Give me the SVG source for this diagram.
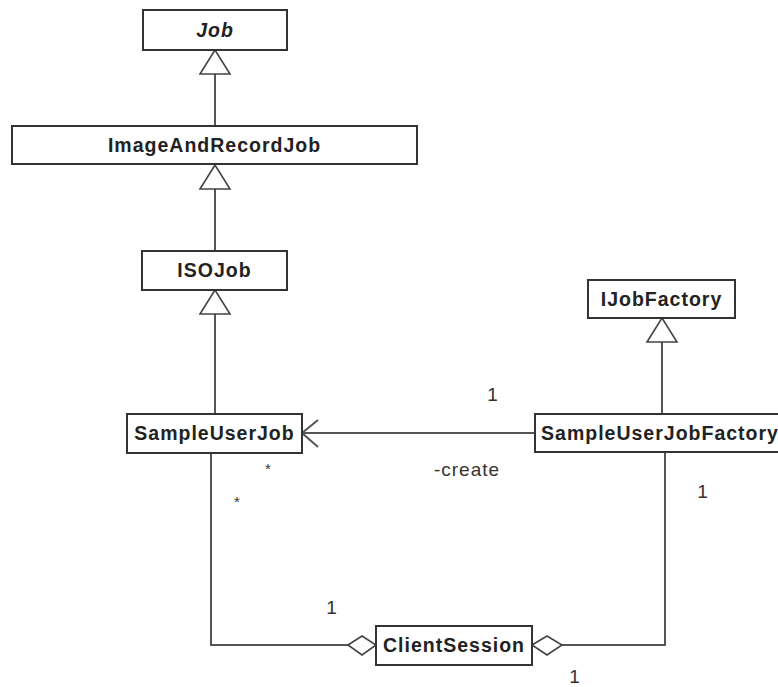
<svg xmlns="http://www.w3.org/2000/svg" width="778" height="687" viewBox="0 0 778 687">
<style>
.box{fill:#fff;stroke:#333;stroke-width:2}
.name{font-family:"Liberation Sans",Arial,sans-serif;font-weight:bold;font-size:19.5px;letter-spacing:1px;fill:#222;text-anchor:middle}
.lbl{font-family:"Liberation Sans",Arial,sans-serif;font-size:19px;letter-spacing:1px;fill:#333;text-anchor:middle}
.star{font-family:"Liberation Sans",Arial,sans-serif;font-size:15px;fill:#333;text-anchor:middle}
.ln{fill:none;stroke:#555;stroke-width:2}
.tri{fill:#fff;stroke:#444;stroke-width:1.6}
</style>
<rect width="778" height="687" fill="#fff"/>
<g id="connectors">
<line class="ln" x1="215" y1="74" x2="215" y2="126"/>
<polygon class="tri" points="215,50 200,74 230,74"/>
<line class="ln" x1="215" y1="189" x2="215" y2="251"/>
<polygon class="tri" points="215,165 200,189 230,189"/>
<line class="ln" x1="215" y1="314" x2="215" y2="414"/>
<polygon class="tri" points="215,290 200,314 230,314"/>
<line class="ln" x1="662" y1="342" x2="662" y2="414"/>
<polygon class="tri" points="662,318 647,342 677,342"/>
<line class="ln" x1="535" y1="433" x2="302" y2="433"/>
<polyline class="ln" points="318,420 302,433 318,447"/>
<polyline class="ln" points="211,453 211,645 348,645"/>
<polygon class="tri" points="348,645 362,636 376,645 362,655"/>
<polyline class="ln" points="562,645 665,645 665,452"/>
<polygon class="tri" points="532,645 547,636 562,645 547,655"/>
</g>
<g id="labels">
<text class="lbl" x="493" y="401">1</text>
<text class="lbl" x="467" y="476">-create</text>
<text class="lbl" x="703" y="498">1</text>
<text class="lbl" x="332" y="614">1</text>
<text class="lbl" x="575" y="683">1</text>
<text class="star" x="268" y="474">*</text>
<text class="star" x="237" y="507">*</text>
</g>
<g id="Job">
<rect class="box" x="143" y="10" width="144" height="40"/>
<text class="name" x="215" y="37" font-style="italic">Job</text>
</g>
<g id="ImageAndRecordJob">
<rect class="box" x="12" y="126" width="405" height="38"/>
<text class="name" x="214.5" y="152">ImageAndRecordJob</text>
</g>
<g id="ISOJob">
<rect class="box" x="142" y="251" width="145" height="39"/>
<text class="name" x="214.5" y="277">ISOJob</text>
</g>
<g id="SampleUserJob">
<rect class="box" x="127" y="414" width="175" height="39"/>
<text class="name" x="214.5" y="440">SampleUserJob</text>
</g>
<g id="IJobFactory">
<rect class="box" x="588" y="280" width="147" height="38"/>
<text class="name" x="661.5" y="306">IJobFactory</text>
</g>
<g id="SampleUserJobFactory">
<rect class="box" x="535" y="414" width="254" height="38"/>
<text class="name" x="660" y="440">SampleUserJobFactory</text>
</g>
<g id="ClientSession">
<rect class="box" x="376" y="626" width="156" height="39"/>
<text class="name" x="454" y="652">ClientSession</text>
</g>
</svg>
